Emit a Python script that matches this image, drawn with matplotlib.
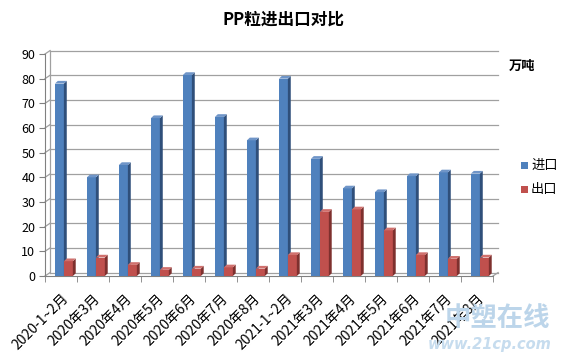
import matplotlib
matplotlib.use("Agg")
import matplotlib.pyplot as plt
from matplotlib.patches import Polygon, Rectangle
import numpy as np

plt.rcParams['font.family'] = ['Noto Sans CJK SC', 'DejaVu Sans']

categories = ["2020-1~2月", "2020年3月", "2020年4月", "2020年5月", "2020年6月", "2020年7月",
              "2020年8月", "2021-1~2月", "2021年3月", "2021年4月", "2021年5月", "2021年6月",
              "2021年7月", "2021年8月"]
imports = [78, 40, 45, 64, 81.5, 64.5, 55, 80, 47.5, 35.5, 34, 40.5, 42, 41.5]
exports = [6, 7.5, 4.5, 2.5, 3, 3.5, 3, 8.5, 26, 27, 18.5, 8.5, 7, 7.5]
yticks = [0, 10, 20, 30, 40, 50, 60, 70, 80, 90]

W, H = 567, 358
fig = plt.figure(figsize=(W / 100, H / 100), dpi=100)
ax = fig.add_axes([45 / W, 1 - 276 / H, 448 / W, 222 / H])

n = len(categories)
x = np.arange(n)
bw = 0.28
dx, dy = 0.09, 1.1  # pseudo-3D depth

ax.set_xlim(-0.5, n - 0.5)
ax.set_ylim(0, 90)

# watermark (behind everything)
fig.text(497 / W, 1 - 318 / H, "中塑在线", ha="center", va="center", fontsize=19,
         fontweight="bold", style="italic", color="#bcd5ea", zorder=0)
fig.text(490 / W, 1 - 345 / H, "www.21cp.com", ha="center", va="center", fontsize=10.5,
         fontweight="bold", style="italic", color="#c6dcee", zorder=0, family="DejaVu Sans")

# back-wall gridlines with left-side diagonals
for v in yticks:
    ax.plot([-0.5, -0.5 + 0.16], [v, v + 1.4], color="#a0a0a0", lw=0.9, zorder=1, clip_on=False)
    ax.plot([-0.5 + 0.16, n - 0.5 + 0.16], [v + 1.4, v + 1.4], color="#a0a0a0", lw=0.9, zorder=1,
            clip_on=False)
ax.plot([-0.5 + 0.16, -0.5 + 0.16], [1.4, 91.4], color="#a0a0a0", lw=0.9, zorder=1, clip_on=False)
ax.plot([n - 0.5, n - 0.5 + 0.16], [0, 1.4], color="#a0a0a0", lw=0.9, zorder=1, clip_on=False)

def bar3d(xc, h, face, side, top):
    x0 = xc - bw / 2
    x1 = xc + bw / 2
    ax.add_patch(Rectangle((x0, 0), bw, h, facecolor=face, edgecolor="none", zorder=3))
    ax.add_patch(Polygon([(x1, 0), (x1 + dx, dy), (x1 + dx, h + dy), (x1, h)],
                         closed=True, facecolor=side, edgecolor="none", zorder=3))
    ax.add_patch(Polygon([(x0, h), (x0 + dx, h + dy), (x1 + dx, h + dy), (x1, h)],
                         closed=True, facecolor=top, edgecolor="none", zorder=3))

for i in range(n):
    bar3d(x[i] - 0.05, imports[i], "#4F81BD", "#2F4F7A", "#6F95C8")
    bar3d(x[i] + 0.23, exports[i], "#C0504D", "#7E302E", "#D0706D")

ax.set_yticks(yticks)
ax.set_yticklabels([str(v) for v in yticks], fontsize=9)
ax.set_xticks(x)
ax.set_xticklabels(categories, rotation=45, ha="right", rotation_mode="anchor", fontsize=10)
ax.set_xticks(np.arange(-0.5, n, 1), minor=True)
ax.tick_params(axis="x", which="major", length=0, pad=11)
ax.tick_params(axis="x", which="minor", length=4, color="#808080")
ax.tick_params(axis="y", length=4, color="#808080", pad=3)

ax.patch.set_alpha(0)
for s in ["top", "right"]:
    ax.spines[s].set_visible(False)
ax.spines["left"].set_color("#808080")
ax.spines["bottom"].set_color("#808080")

fig.text(0.5, 1 - 20 / H, "PP粒进出口对比", ha="center", va="center", fontsize=12, fontweight="bold")
fig.text(509 / W, 1 - 66 / H, "万吨", ha="left", va="center", fontsize=9.5, fontweight="bold")

# legend
fig.patches.append(Rectangle((521 / W, 1 - 169 / H), 7 / W, 7 / H, transform=fig.transFigure,
                             facecolor="#4F81BD", edgecolor="none"))
fig.text(531 / W, 1 - 165 / H, "进口", ha="left", va="center", fontsize=9.5)
fig.patches.append(Rectangle((521 / W, 1 - 193 / H), 7 / W, 7 / H, transform=fig.transFigure,
                             facecolor="#C0504D", edgecolor="none"))
fig.text(531 / W, 1 - 189 / H, "出口", ha="left", va="center", fontsize=9.5)

fig.savefig("out.png", dpi=100)
